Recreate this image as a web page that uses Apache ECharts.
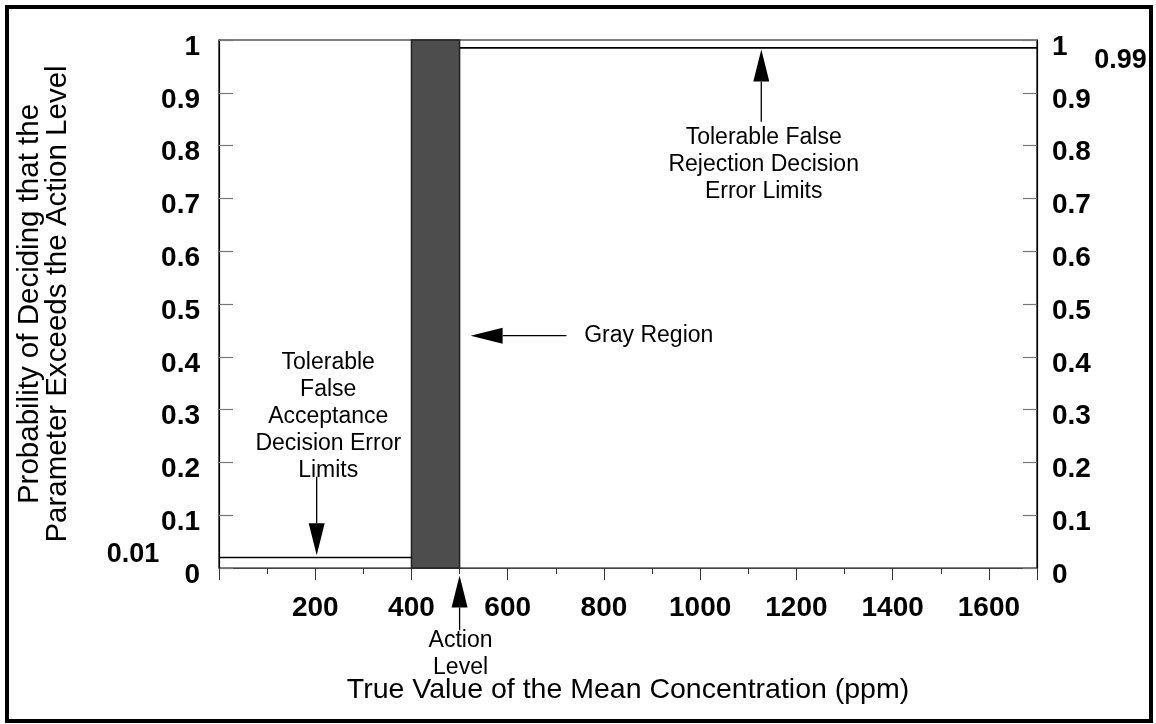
<!DOCTYPE html>
<html>
<head>
<meta charset="utf-8">
<script src="https://cdn.jsdelivr.net/npm/echarts@6/dist/echarts.min.js"></script>
<style>
html,body{margin:0;padding:0;background:#fff;}
#chart{width:1156px;height:724px;}
</style>
</head>
<body>
<div id="chart"></div>
<script>
// ---- data ----
const xRange = [0, 1700];
const yRange = [0, 1];
const lowerLimit = [[0, 0.02], [400, 0.02]];        // tolerable false acceptance limit
const upperLimit = [[500, 0.985], [1700, 0.985]];   // tolerable false rejection limit
const grayRegion = [400, 500];                      // gray region bounds (ppm)
// arrows: [tailX, tailY, tipX, tipY]
const arrowSegments = [
  [203, 0.173, 203, 0.024],
  [1127, 0.845, 1127, 0.982],
  [722, 0.44, 523, 0.44],
  [500, -0.118, 500, -0.014]
];
const annotationTexts = ['Tolerable\nFalse\nAcceptance\nDecision Error\nLimits',
  'Tolerable False\nRejection Decision\nError Limits',
  'Gray Region',
  'Action\nLevel'];
const annotationPos = [[227, 0.287], [1132, 0.764], [759, 0.44], [502, -0.163]];
const annotationAlign = ['center', 'center', 'left', 'center'];
const extraTickTexts = ['0.01', '0.99'];
const extraTickPos = [[-124, 0.025], [1928, 0.962]];
const extraTickAlign = ['right', 'right'];

const FONT = "'Liberation Sans', Arial, sans-serif";

const chart = echarts.init(document.getElementById('chart'));

const option = {
  backgroundColor: '#fff',
  animation: false,
  grid: { left: 219, right: 119, top: 40, bottom: 156, show: true, borderColor: '#000', borderWidth: 1.2 },
  xAxis: {
    type: 'value', min: xRange[0], max: xRange[1], interval: 200,
    name: 'True Value of the Mean Concentration (ppm)',
    nameLocation: 'middle', nameGap: 108,
    nameTextStyle: { fontFamily: FONT, fontSize: 28.5, color: '#000' },
    axisLine: { show: true, lineStyle: { color: '#444', width: 1.2 } },
    axisTick: { show: true, length: 12, lineStyle: { color: '#333', width: 1 } },
    minorTick: { show: true, splitNumber: 2, length: 6, lineStyle: { color: '#333', width: 1 } },
    splitLine: { show: false },
    axisLabel: {
      margin: 26, fontFamily: FONT, fontSize: 28, fontWeight: 'bold', color: '#000',
      formatter: v => (v === 0 || v >= 1700) ? '' : String(v)
    }
  },
  yAxis: [{
    type: 'value', min: yRange[0], max: yRange[1], interval: 0.1, position: 'left',
    name: 'Probability of Deciding that the\nParameter Exceeds the Action Level',
    nameLocation: 'middle', nameGap: 147,
    nameTextStyle: { fontFamily: FONT, fontSize: 29.5, color: '#000', lineHeight: 28 },
    axisLine: { show: true, lineStyle: { color: '#000', width: 1.2 } },
    axisTick: { show: true, inside: true, length: 14, lineStyle: { color: '#777', width: 1.2 } },
    splitLine: { show: false },
    axisLabel: { margin: 19, verticalAlign: 'top', lineHeight: 14, fontFamily: FONT, fontSize: 28, fontWeight: 'bold', color: '#000' }
  }, {
    type: 'value', min: yRange[0], max: yRange[1], interval: 0.1, position: 'right',
    axisLine: { show: true, lineStyle: { color: '#000', width: 1.2 } },
    axisTick: { show: true, inside: true, length: 14, lineStyle: { color: '#777', width: 1.2 } },
    splitLine: { show: false },
    axisLabel: { margin: 15, verticalAlign: 'top', lineHeight: 14, fontFamily: FONT, fontSize: 28, fontWeight: 'bold', color: '#000' }
  }],
  graphic: [{
    type: 'rect', shape: { x: 7, y: 7, width: 1144, height: 714 },
    style: { fill: 'none', stroke: '#000', lineWidth: 4 }, z: 100, silent: true
  }],
  series: [
    {
      type: 'line', data: lowerLimit, symbol: 'none',
      lineStyle: { color: '#000', width: 1.5 }, z: 3,
      markArea: {
        silent: true,
        itemStyle: { color: '#4d4d4d', borderColor: '#222', borderWidth: 1.5 },
        data: [[{ coord: [grayRegion[0], yRange[0]] }, { coord: [grayRegion[1], yRange[1]] }]]
      }
    },
    {
      type: 'line', data: upperLimit, symbol: 'none',
      lineStyle: { color: '#000', width: 1.8 }, z: 3
    },
    {
      type: 'custom', clip: false, z: 5,
      data: arrowSegments,
      encode: { x: [0, 2], y: [1, 3] },
      renderItem: function (params, api) {
        const p1 = api.coord([api.value(0), api.value(1)]);
        const p2 = api.coord([api.value(2), api.value(3)]);
        const dx = p2[0] - p1[0], dy = p2[1] - p1[1];
        const len = Math.sqrt(dx * dx + dy * dy);
        const ux = dx / len, uy = dy / len;
        const hl = 32, hw = 8;
        const bx = p2[0] - ux * hl, by = p2[1] - uy * hl;
        return {
          type: 'group',
          children: [{
            type: 'line',
            shape: { x1: p1[0], y1: p1[1], x2: bx, y2: by },
            style: { stroke: '#000', lineWidth: 1.3 }
          }, {
            type: 'polygon',
            shape: { points: [[p2[0], p2[1]], [bx - uy * hw, by + ux * hw], [bx + uy * hw, by - ux * hw]] },
            style: { fill: '#000' }
          }]
        };
      }
    },
    {
      type: 'custom', clip: false, z: 6,
      data: annotationPos,
      renderItem: function (params, api) {
        const p = api.coord([api.value(0), api.value(1)]);
        return {
          type: 'text', x: p[0], y: p[1],
          style: {
            text: annotationTexts[params.dataIndex],
            font: '23px ' + FONT, fill: '#000',
            textAlign: annotationAlign[params.dataIndex], textVerticalAlign: 'middle',
            lineHeight: 27
          }
        };
      }
    },
    {
      type: 'custom', clip: false, z: 6,
      data: extraTickPos,
      renderItem: function (params, api) {
        const p = api.coord([api.value(0), api.value(1)]);
        return {
          type: 'text', x: p[0], y: p[1],
          style: {
            text: extraTickTexts[params.dataIndex],
            font: 'bold 27px ' + FONT, fill: '#000',
            textAlign: extraTickAlign[params.dataIndex], textVerticalAlign: 'middle'
          }
        };
      }
    }
  ]
};
chart.setOption(option);
</script>
</body>
</html>
